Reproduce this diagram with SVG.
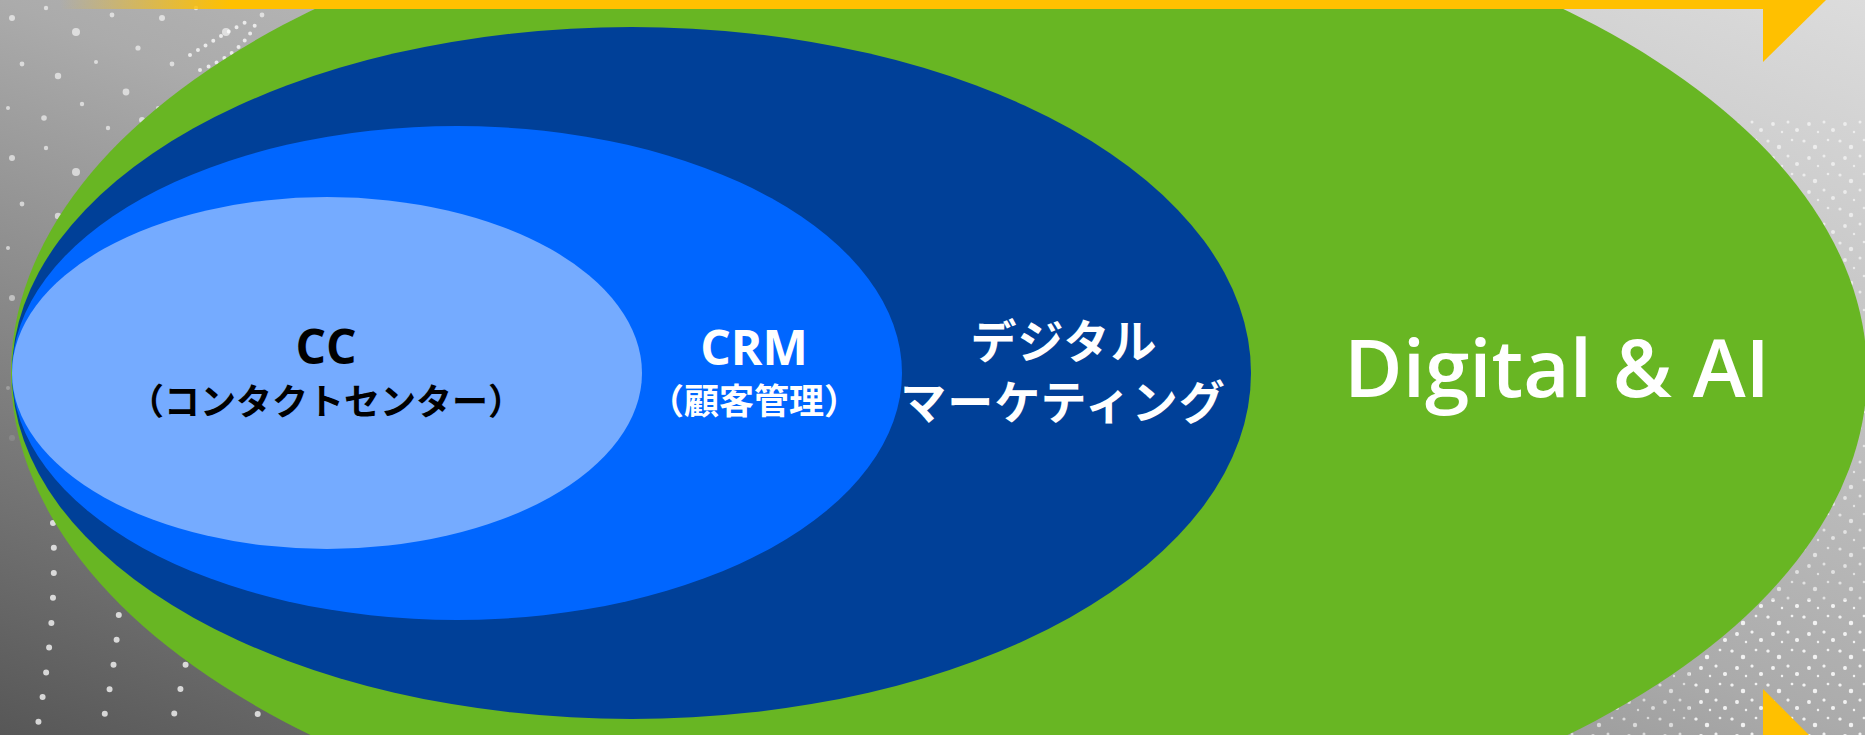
<svg xmlns="http://www.w3.org/2000/svg" width="1865" height="735" viewBox="0 0 1865 735">
  <style>
    .jp { font-family: "Noto Sans CJK JP", "Noto Sans", sans-serif; }
    .lat { font-family: "Open Sans", "Noto Sans", sans-serif; }
    .dark { fill: #000000; }
    .light { fill: #ffffff; }
    .dotline { fill: none; stroke: #ffffff; stroke-opacity: 0.75; stroke-linecap: round; }
  </style>
  <defs>
    <linearGradient id="bg" x1="1" y1="0" x2="0" y2="1">
      <stop offset="0" stop-color="#dcdcdc"/>
      <stop offset="0.5" stop-color="#ababab"/>
      <stop offset="1" stop-color="#575757"/>
    </linearGradient>
    <linearGradient id="barFade" gradientUnits="userSpaceOnUse" x1="60" y1="0" x2="230" y2="0">
      <stop offset="0" stop-color="#ffc000" stop-opacity="0"/>
      <stop offset="1" stop-color="#ffc000" stop-opacity="1"/>
    </linearGradient>
    <!-- speckles fade out towards the lower left -->
    <linearGradient id="speckleFade" gradientUnits="userSpaceOnUse" x1="0" y1="250" x2="0" y2="480">
      <stop offset="0" stop-color="#ffffff" stop-opacity="1"/>
      <stop offset="1" stop-color="#ffffff" stop-opacity="0"/>
    </linearGradient>
    <mask id="speckleMask" maskUnits="userSpaceOnUse" x="0" y="0" width="1865" height="735">
      <rect x="0" y="0" width="1865" height="735" fill="url(#speckleFade)"/>
    </mask>
    <filter id="soft" x="-5%" y="-5%" width="110%" height="110%">
      <feGaussianBlur stdDeviation="0.7"/>
    </filter>
    <!-- coarse scattered speckles -->
    <pattern id="speckle" width="150" height="140" patternUnits="userSpaceOnUse">
      <g fill="#ffffff" fill-opacity="0.6">
        <circle cx="12" cy="18" r="3"/>
        <circle cx="46" cy="8" r="2.2"/>
        <circle cx="76" cy="32" r="4"/>
        <circle cx="112" cy="15" r="2.4"/>
        <circle cx="138" cy="48" r="2.6"/>
        <circle cx="22" cy="64" r="2.4"/>
        <circle cx="58" cy="76" r="3.2"/>
        <circle cx="96" cy="62" r="2"/>
        <circle cx="126" cy="92" r="3.4"/>
        <circle cx="8" cy="108" r="2"/>
        <circle cx="44" cy="118" r="2.8"/>
        <circle cx="82" cy="104" r="2.2"/>
        <circle cx="108" cy="128" r="2.2"/>
        <circle cx="142" cy="120" r="3"/>
      </g>
    </pattern>
    <!-- fine dense speckles -->
    <pattern id="fine" width="36" height="34" patternUnits="userSpaceOnUse">
      <g fill="#ffffff" fill-opacity="0.6">
        <circle cx="4" cy="5" r="1.6"/>
        <circle cx="15" cy="11" r="2.2"/>
        <circle cx="28" cy="4" r="1.3"/>
        <circle cx="9" cy="22" r="1.9"/>
        <circle cx="24" cy="20" r="1.5"/>
        <circle cx="33" cy="28" r="2"/>
        <circle cx="18" cy="30" r="1.2"/>
      </g>
    </pattern>
  </defs>

  <!-- background -->
  <g id="background">
    <rect x="0" y="0" width="1865" height="735" fill="url(#bg)"/>
    <g filter="url(#soft)">
      <rect x="0" y="0" width="1000" height="735" fill="url(#speckle)" mask="url(#speckleMask)"/>
      <rect x="1690" y="120" width="175" height="615" fill="url(#fine)"/>
      <rect x="1450" y="600" width="415" height="135" fill="url(#fine)"/>
      <g class="dotline" stroke-width="6" stroke-dasharray="0 25">
        <path d="M53 523 Q58 620 36 735"/>
        <path d="M120 590 Q118 660 100 735"/>
        <path d="M190 640 Q182 690 168 735"/>
        <path d="M265 690 Q258 715 250 735"/>
      </g>
      <g class="dotline" stroke-width="4" stroke-dasharray="0 9">
        <path d="M190 55 Q230 30 250 20"/>
        <path d="M200 70 Q240 55 255 25"/>
      </g>
    </g>
  </g>

  <!-- nested scope ellipses, outermost first -->
  <g id="node-digital-ai">
    <ellipse cx="939" cy="373" rx="928" ry="492" fill="#68b623"/>
    <text class="lat light" x="1557" y="397" font-size="80" font-weight="600" text-anchor="middle">Digital &amp; AI</text>
  </g>
  <g id="node-digital-marketing">
    <ellipse cx="631.5" cy="373" rx="619.5" ry="346" fill="#004098"/>
    <text class="jp light" x="1064" y="357.5" font-size="46" font-weight="700" letter-spacing="1" text-anchor="middle">デジタル</text>
    <text class="jp light" x="1063" y="418.5" font-size="46" font-weight="700" letter-spacing="1" text-anchor="middle">マーケティング</text>
  </g>
  <g id="node-crm">
    <ellipse cx="457" cy="373" rx="445" ry="247" fill="#0066ff"/>
    <text class="lat light" x="754" y="365" font-size="48" font-weight="700" text-anchor="middle">CRM</text>
    <text class="jp light" x="754" y="414" font-size="35" font-weight="700" text-anchor="middle">（顧客管理）</text>
  </g>
  <g id="node-cc">
    <ellipse cx="327" cy="373" rx="315" ry="176" fill="#75abff"/>
    <text class="lat dark" x="326" y="364" font-size="48" font-weight="700" text-anchor="middle">CC</text>
    <text class="jp dark" x="326" y="415" font-size="36" font-weight="700" text-anchor="middle">（コンタクトセンター）</text>
  </g>

  <g id="connectors"/>

  <!-- yellow arrow frame -->
  <g id="frame">
    <rect x="60" y="0" width="1704" height="9" fill="url(#barFade)"/>
    <polygon points="1763,0 1826,0 1763,62" fill="#ffc000"/>
    <polygon points="1763,689 1809,735 1763,735" fill="#ffc000"/>
  </g>
</svg>
